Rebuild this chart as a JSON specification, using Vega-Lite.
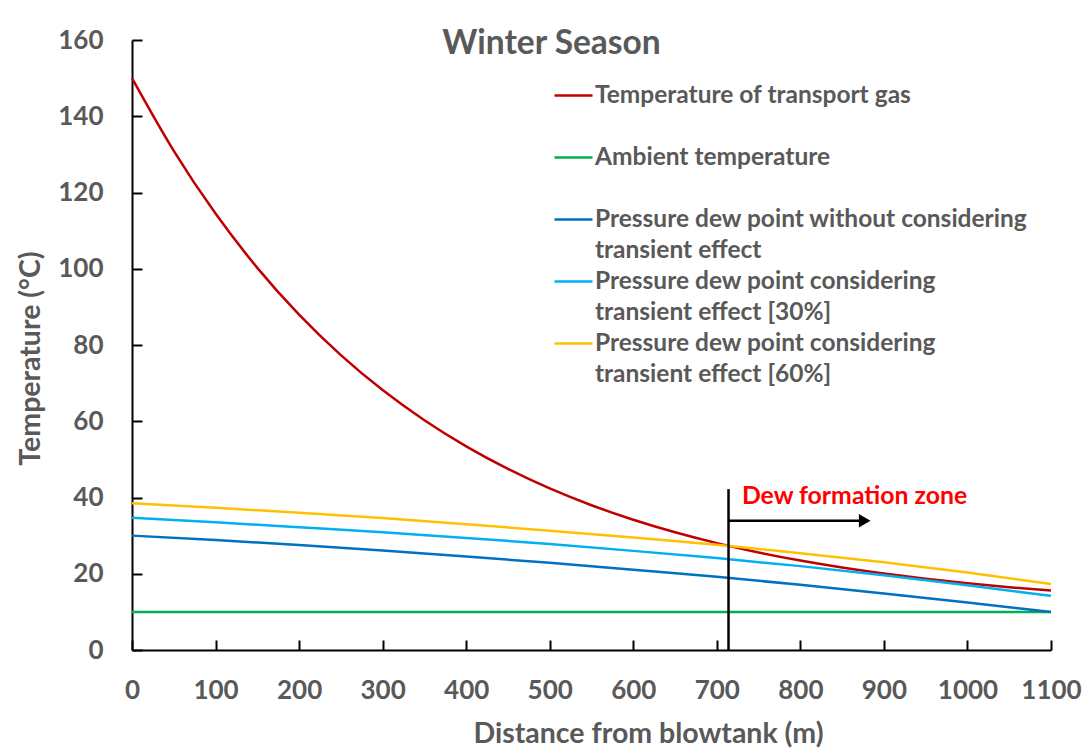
{
  "$schema": "https://vega.github.io/schema/vega-lite/v6.json",
  "width": 919,
  "height": 610,
  "autosize": {"type": "none"},
  "padding": {"left": 132, "top": 40, "right": 40, "bottom": 102},
  "background": "white",
  "config": {
    "view": {"stroke": null},
    "font": "Lato",
    "axis": {
      "grid": false,
      "domainColor": "black",
      "domainWidth": 2,
      "tickColor": "black",
      "tickWidth": 2,
      "tickSize": -10,
      "labelFont": "Lato",
      "labelFontWeight": "bold",
      "labelFontSize": 26,
      "labelColor": "#595959",
      "titleFont": "Lato",
      "titleFontWeight": "bold",
      "titleFontSize": 28.5,
      "titleColor": "#595959"
    }
  },
  "title": {
    "text": "Winter Season",
    "anchor": "middle",
    "orient": "top",
    "offset": 0,
    "baseline": "alphabetic",
    "dx": -40,
    "dy": 60,
    "font": "Lato",
    "fontSize": 33.5,
    "fontWeight": "bold",
    "color": "#595959"
  },
  "datasets": {
    "curves": [
      {"d": 0, "T": 150, "s": "Temperature of transport gas"},
      {"d": 50, "T": 130.93, "s": "Temperature of transport gas"},
      {"d": 100, "T": 114.47, "s": "Temperature of transport gas"},
      {"d": 150, "T": 100.24, "s": "Temperature of transport gas"},
      {"d": 200, "T": 87.95, "s": "Temperature of transport gas"},
      {"d": 250, "T": 77.34, "s": "Temperature of transport gas"},
      {"d": 300, "T": 68.17, "s": "Temperature of transport gas"},
      {"d": 350, "T": 60.25, "s": "Temperature of transport gas"},
      {"d": 400, "T": 53.4, "s": "Temperature of transport gas"},
      {"d": 450, "T": 47.49, "s": "Temperature of transport gas"},
      {"d": 500, "T": 42.38, "s": "Temperature of transport gas"},
      {"d": 550, "T": 37.97, "s": "Temperature of transport gas"},
      {"d": 600, "T": 34.16, "s": "Temperature of transport gas"},
      {"d": 650, "T": 30.87, "s": "Temperature of transport gas"},
      {"d": 700, "T": 28.03, "s": "Temperature of transport gas"},
      {"d": 750, "T": 25.57, "s": "Temperature of transport gas"},
      {"d": 800, "T": 23.45, "s": "Temperature of transport gas"},
      {"d": 850, "T": 21.62, "s": "Temperature of transport gas"},
      {"d": 900, "T": 20.04, "s": "Temperature of transport gas"},
      {"d": 950, "T": 18.67, "s": "Temperature of transport gas"},
      {"d": 1000, "T": 17.49, "s": "Temperature of transport gas"},
      {"d": 1050, "T": 16.47, "s": "Temperature of transport gas"},
      {"d": 1100, "T": 15.59, "s": "Temperature of transport gas"},
      {"d": 0, "T": 10, "s": "Ambient temperature"},
      {"d": 1100, "T": 10, "s": "Ambient temperature"},
      {"d": 0, "T": 30, "s": "Pressure dew point without considering transient effect"},
      {"d": 100, "T": 28.83, "s": "Pressure dew point without considering transient effect"},
      {"d": 200, "T": 27.53, "s": "Pressure dew point without considering transient effect"},
      {"d": 300, "T": 26.1, "s": "Pressure dew point without considering transient effect"},
      {"d": 400, "T": 24.54, "s": "Pressure dew point without considering transient effect"},
      {"d": 500, "T": 22.86, "s": "Pressure dew point without considering transient effect"},
      {"d": 600, "T": 21.04, "s": "Pressure dew point without considering transient effect"},
      {"d": 700, "T": 19.2, "s": "Pressure dew point without considering transient effect"},
      {"d": 800, "T": 17.1, "s": "Pressure dew point without considering transient effect"},
      {"d": 900, "T": 14.85, "s": "Pressure dew point without considering transient effect"},
      {"d": 1000, "T": 12.47, "s": "Pressure dew point without considering transient effect"},
      {"d": 1100, "T": 10, "s": "Pressure dew point without considering transient effect"},
      {"d": 0, "T": 34.7, "s": "Pressure dew point considering transient effect [30%]"},
      {"d": 100, "T": 33.5, "s": "Pressure dew point considering transient effect [30%]"},
      {"d": 200, "T": 32.2, "s": "Pressure dew point considering transient effect [30%]"},
      {"d": 300, "T": 30.9, "s": "Pressure dew point considering transient effect [30%]"},
      {"d": 400, "T": 29.4, "s": "Pressure dew point considering transient effect [30%]"},
      {"d": 500, "T": 27.8, "s": "Pressure dew point considering transient effect [30%]"},
      {"d": 600, "T": 26.0, "s": "Pressure dew point considering transient effect [30%]"},
      {"d": 700, "T": 24.1, "s": "Pressure dew point considering transient effect [30%]"},
      {"d": 800, "T": 22.0, "s": "Pressure dew point considering transient effect [30%]"},
      {"d": 900, "T": 19.6, "s": "Pressure dew point considering transient effect [30%]"},
      {"d": 1000, "T": 17.0, "s": "Pressure dew point considering transient effect [30%]"},
      {"d": 1100, "T": 14.2, "s": "Pressure dew point considering transient effect [30%]"},
      {"d": 0, "T": 38.5, "s": "Pressure dew point considering transient effect [60%]"},
      {"d": 100, "T": 37.3, "s": "Pressure dew point considering transient effect [60%]"},
      {"d": 200, "T": 36.0, "s": "Pressure dew point considering transient effect [60%]"},
      {"d": 300, "T": 34.6, "s": "Pressure dew point considering transient effect [60%]"},
      {"d": 400, "T": 33.0, "s": "Pressure dew point considering transient effect [60%]"},
      {"d": 500, "T": 31.3, "s": "Pressure dew point considering transient effect [60%]"},
      {"d": 600, "T": 29.5, "s": "Pressure dew point considering transient effect [60%]"},
      {"d": 700, "T": 27.6, "s": "Pressure dew point considering transient effect [60%]"},
      {"d": 800, "T": 25.4, "s": "Pressure dew point considering transient effect [60%]"},
      {"d": 900, "T": 23.0, "s": "Pressure dew point considering transient effect [60%]"},
      {"d": 1000, "T": 20.3, "s": "Pressure dew point considering transient effect [60%]"},
      {"d": 1100, "T": 17.3, "s": "Pressure dew point considering transient effect [60%]"}
    ],
    "zoneLine": [{"d": 714, "T": 0, "T2": 42.2}],
    "arrow": [{"d": 714, "d2": 871, "T": 33.9}],
    "arrowHead": [{"d": 877, "T": 33.9}],
    "zoneLabel": [{"d": 730, "T": 40.1, "label": "Dew formation zone"}]
  },
  "layer": [
    {
      "data": {"name": "curves"},
      "mark": {"type": "line", "strokeWidth": 2.5, "interpolate": "monotone"},
      "encoding": {
        "x": {
          "field": "d", "type": "quantitative",
          "scale": {"domain": [0, 1100], "nice": false},
          "axis": {
            "title": "Distance from blowtank (m)",
            "values": [0, 100, 200, 300, 400, 500, 600, 700, 800, 900, 1000, 1100],
            "format": "d",
            "labelPadding": 37,
            "labelFlush": false,
            "titleX": 516,
            "titlePadding": 16
          }
        },
        "y": {
          "field": "T", "type": "quantitative",
          "scale": {"domain": [0, 160], "nice": false},
          "axis": {
            "title": "Temperature (°C)",
            "values": [0, 20, 40, 60, 80, 100, 120, 140, 160],
            "labelPadding": 39,
            "titlePadding": 12,
            "titleY": 318
          }
        },
        "color": {
          "field": "s", "type": "nominal",
          "scale": {
            "domain": [
              "Temperature of transport gas", "g1",
              "Ambient temperature", "g2",
              "Pressure dew point without considering transient effect", "l3",
              "Pressure dew point considering transient effect [30%]", "l4",
              "Pressure dew point considering transient effect [60%]", "l5"
            ],
            "range": ["#C00000", "transparent", "#00B050", "transparent", "#0070C0", "transparent", "#00B0F0", "transparent", "#FFC000", "transparent"]
          },
          "legend": {
            "title": null,
            "orient": "none",
            "legendX": 421,
            "legendY": 40.5,
            "padding": 0,
            "symbolType": "stroke",
            "symbolSize": 1444,
            "symbolStrokeWidth": 2.5,
            "clipHeight": 30.1,
            "labelFont": "Lato",
            "labelFontWeight": "bold",
            "labelFontSize": 24.5,
            "labelColor": "#595959",
            "labelLimit": 0,
            "labelOffset": 1,
            "rowPadding": 0,
            "labelExpr": "datum.label == 'g1' || datum.label == 'g2' ? '' : datum.label == 'l3' ? 'transient effect' : datum.label == 'l4' ? 'transient effect [30%]' : datum.label == 'l5' ? 'transient effect [60%]' : indexof(datum.label, 'considering') >= 0 ? slice(datum.label, 0, indexof(datum.label, 'considering') + 11) : datum.label"
          }
        }
      }
    },
    {
      "data": {"name": "zoneLine"},
      "mark": {"type": "rule", "color": "black", "strokeWidth": 2.5},
      "encoding": {
        "x": {"field": "d", "type": "quantitative"},
        "y": {"field": "T", "type": "quantitative"},
        "y2": {"field": "T2"}
      }
    },
    {
      "data": {"name": "arrow"},
      "mark": {"type": "rule", "color": "black", "strokeWidth": 2.5},
      "encoding": {
        "x": {"field": "d", "type": "quantitative"},
        "x2": {"field": "d2"},
        "y": {"field": "T", "type": "quantitative"}
      }
    },
    {
      "data": {"name": "arrowHead"},
      "mark": {"type": "point", "shape": "triangle-right", "filled": true, "color": "black", "size": 180, "opacity": 1},
      "encoding": {
        "x": {"field": "d", "type": "quantitative"},
        "y": {"field": "T", "type": "quantitative"}
      }
    },
    {
      "data": {"name": "zoneLabel"},
      "mark": {"type": "text", "align": "left", "baseline": "middle", "font": "Lato", "fontWeight": "bold", "fontSize": 24.8, "color": "#FF0000"},
      "encoding": {
        "x": {"field": "d", "type": "quantitative"},
        "y": {"field": "T", "type": "quantitative"},
        "text": {"field": "label"}
      }
    }
  ]
}
